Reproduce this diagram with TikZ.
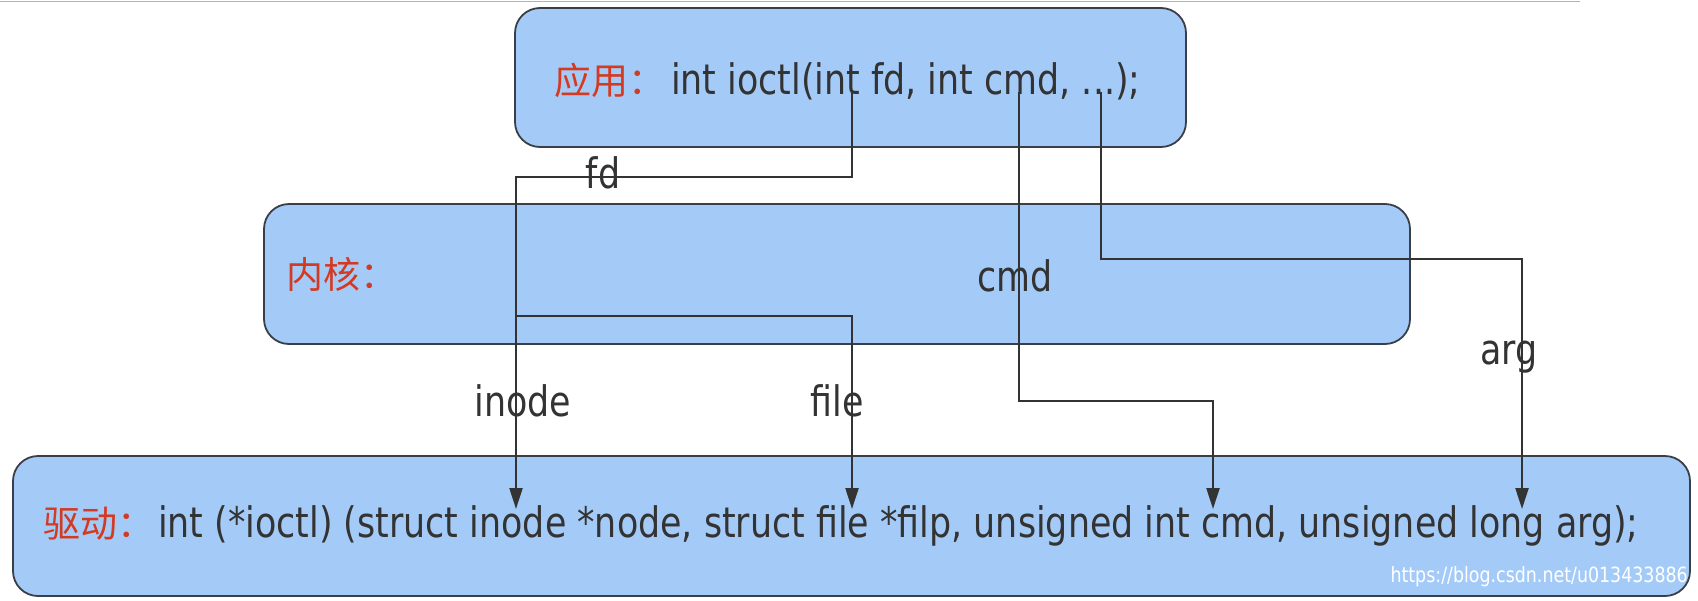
\documentclass[tikz,border=0pt]{standalone}
\usepackage{fontspec}
\setmainfont{DejaVu Sans}[FakeStretch=0.83]
\newfontfamily\cjkfont{Noto Sans CJK SC}
\usetikzlibrary{positioning,arrows.meta}
\definecolor{albastru}{HTML}{A4CBF8}
\definecolor{contur}{HTML}{3A3F47}
\definecolor{rosu}{HTML}{D33A22}
\definecolor{gri}{HTML}{333333}
\tikzset{
  bloc/.style     = {draw=contur, fill=albastru, line width=1.8pt, rounded corners=25pt,
                     inner sep=0pt},
  titlu/.style    = {anchor=west, inner sep=0pt, text=gri, font=\fontsize{42}{48}\selectfont},
  eticheta/.style = {inner sep=0pt, text=gri, font=\fontsize{42}{48}\selectfont},
  sageata/.style  = {-{Triangle[length=21pt,width=13pt]}, line width=2.2pt, draw=gri}
}
\newcommand{\rosu}[1]{\textcolor{rosu}{\cjkfont\fontsize{37}{42}\selectfont #1}}
\begin{document}
\begin{tikzpicture}[x=1pt,y=-1pt]
    \useasboundingbox (0,0) rectangle (1698,600);
    \draw[gray!60, line width=1.5pt] (0,1.5) -- (1580,1.5);

    \node[bloc, minimum width=671pt, minimum height=139pt] (app) at (850.5,77.5) {};
    \node[bloc, minimum width=1146pt, minimum height=140pt] (kern) at (837,274) {};
    \node[bloc, minimum width=1677pt, minimum height=140pt] (drv) at (851.5,526) {};

    \node[titlu] (apptext) at (554,81) {\rosu{应用：}\hspace{6pt}int ioctl(int fd, int cmd, ...);};
    \node[titlu] (kerntext) at (286,274) {\rosu{内核：}};
    \node[titlu] (drvtext) at (43,526) {\rosu{驱动：}\hspace{4pt}int (*ioctl) (struct inode *node, struct file *filp, unsigned int cmd, unsigned long arg);};
    \node[anchor=east, inner sep=0pt, text=white, font=\fontsize{21}{24}\selectfont] (sursa) at (1688,577) {https://blog.csdn.net/u013433886};

    % capetele conexiunilor
    \coordinate (fdA) at (852,92);
    \coordinate (fdB) at (516,509);
    \coordinate (fileA) at (516,316);
    \coordinate (fileB) at (852,509);
    \coordinate (cmdA) at (1019,92);
    \coordinate (cmdB) at (1213,509);
    \coordinate (argA) at (1101,92);
    \coordinate (argB) at (1522,509);

    \draw[sageata] (fdA) -- ++(0,85) -| (fdB);
    \draw[sageata] (fileA) -| (fileB);
    \draw[sageata] (cmdA) -- ++(0,309) -| (cmdB);
    \draw[sageata] (argA) -- ++(0,167) -| (argB);

    \node[eticheta] (lfd) at (603,173) {fd};
    \node[eticheta] (lcmd) at (1015,276) {cmd};
    \node[eticheta] (linode) at (523,401) {inode};
    \node[eticheta] (lfile) at (837,401) {file};
    \node[eticheta] (larg) at (1509,357) {arg};
\end{tikzpicture}
\end{document}
